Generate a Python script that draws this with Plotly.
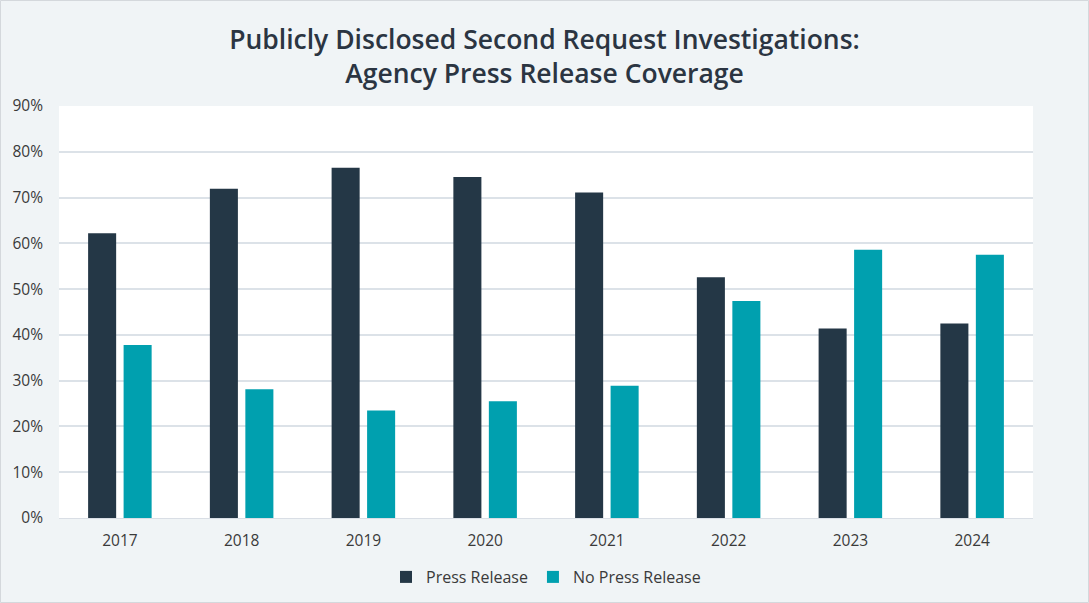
import plotly.graph_objects as go

years = ["2017", "2018", "2019", "2020", "2021", "2022", "2023", "2024"]
press_release = [62.2, 71.9, 76.5, 74.5, 71.1, 52.6, 41.4, 42.5]
no_press_release = [37.8, 28.1, 23.5, 25.5, 28.9, 47.4, 58.6, 57.5]
y_ticks = [0, 10, 20, 30, 40, 50, 60, 70, 80, 90]

W, H = 1089, 603
L, R, T, B = 59, 56, 106, 85
pw, ph = W - L - R, H - T - B

def px_x(p):
    return (p - L) / pw

def px_y(p):
    return (H - B - p) / ph

FONT = "'Open Sans', Lato, sans-serif"

fig = go.Figure()
fig.add_trace(go.Bar(x=years, y=press_release, name="Press Release",
                     marker=dict(color="#243746", line=dict(width=0))))
fig.add_trace(go.Bar(x=years, y=no_press_release, name="No Press Release",
                     marker=dict(color="#00A0AF", line=dict(width=0))))

fig.update_layout(
    width=W, height=H, autosize=False,
    margin=dict(l=L, r=R, t=T, b=B, autoexpand=False),
    paper_bgcolor="#F0F4F6",
    plot_bgcolor="#FFFFFF",
    font=dict(family=FONT, color="#3A3A3A", size=15),
    title=dict(
        text="Publicly Disclosed Second Request Investigations:<br>Agency Press Release Coverage",
        x=0.5, xanchor="center", y=(H - 49) / H, yref="container", yanchor="middle",
        font=dict(size=26.5, color="#2B3542", family=FONT, weight=600),
    ),
    barmode="group",
    bargap=0.417,
    bargroupgap=0.21,
    showlegend=True,
    legend=dict(orientation="h", x=0.5, xanchor="center",
                y=(H - 577) / H, yref="container", yanchor="middle",
                font=dict(size=16, color="#3A3A3A"), bgcolor="rgba(0,0,0,0)",
                itemwidth=30, traceorder="normal"),
    xaxis=dict(showgrid=False, showline=True, linecolor="#D9DEE5", linewidth=1,
               ticks="", tickfont=dict(size=15.5, color="#3A3A3A"), ticklabelstandoff=8),
    yaxis=dict(range=[0, 90], tickvals=y_ticks, ticktext=[f"{v}%" for v in y_ticks],
               showgrid=True, gridcolor="#DCE2E8", gridwidth=1.5, zeroline=False,
               ticks="", tickfont=dict(size=15.5, color="#3A3A3A"), ticklabelstandoff=15),
    shapes=[dict(type="rect", xref="paper", yref="paper",
                 x0=px_x(0.5), x1=px_x(W - 0.5), y0=px_y(H - 0.5), y1=px_y(0.5),
                 line=dict(color="#D4D8DC", width=1), fillcolor="rgba(0,0,0,0)",
                 layer="below")],
)

fig.write_html("out.html", config={"displayModeBar": False, "responsive": False},
               post_script="document.body.style.margin='0';document.body.style.padding='0';")
